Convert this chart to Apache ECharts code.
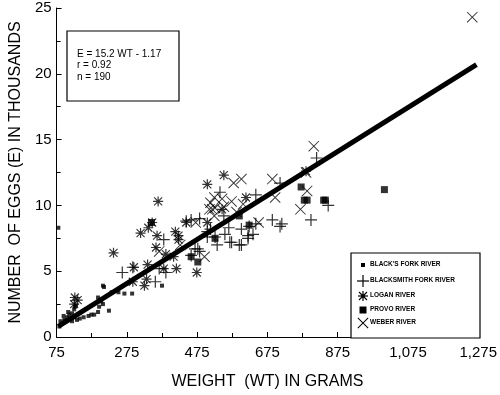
<!DOCTYPE html>
<html>
<head>
<meta charset="utf-8">
<script src="https://cdn.jsdelivr.net/npm/echarts@6/dist/echarts.min.js"></script>
<style>html,body{margin:0;padding:0;background:#fff;}#c{width:500px;height:395px;}</style>
</head>
<body>
<div id="c"></div>
<script>
// ---- data (weight in grams, eggs in thousands) ----
const xTicks = [75, 275, 475, 675, 875, 1075, 1275];
const yTicks = [0, 5, 10, 15, 20, 25];

const blacksFork = [
  [80,8.3],[83,0.8],[86,1.2],[90,1.0],[95,1.6],[97,1.3],[100,1.2],[105,1.5],[108,1.9],[111,1.7],
  [114,1.4],[119,1.8],[119,1.2],[125,2.1],[125,1.5],[127,2.3],[130,2.4],[133,1.3],[141,1.4],[152,1.5],
  [166,1.6],[174,1.7],[182,1.7],[193,1.9],[196,2.3],[193,3.0],[202,2.7],[207,2.5],[210,3.8],[207,3.9],
  [224,2.0],[232,3.4],[251,3.4],[268,3.3],[290,3.3],[375,3.9]
];
const blacksmithFork = [
  [262,4.9],[292,5.3],[356,4.2],[367,5.2],[386,4.9],[380,7.4],[444,8.8],[458,8.9],[482,9.0],[469,6.7],
  [482,6.5],[477,6.7],[458,6.2],[504,8.0],[526,7.6],[504,7.6],[513,8.2],[532,7.0],[554,7.8],[540,11.0],
  [551,9.2],[565,8.3],[568,7.2],[573,7.2],[595,7.0],[601,8.2],[601,7.0],[620,7.5],[620,7.7],[623,8.4],
  [634,7.8],[642,8.6],[642,10.8],[689,8.9],[711,8.4],[716,8.6],[711,11.7],[799,8.9],[815,13.6],[848,10.0]
];
const loganRiver = [
  [127,3.0],[125,2.5],[135,2.8],[237,6.4],[295,5.3],[334,5.5],[292,4.2],[325,3.9],[331,4.4],[380,5.2],
  [416,5.2],[347,8.7],[314,7.9],[336,8.3],[361,7.7],[358,6.8],[413,8.0],[422,7.7],[386,6.3],[408,6.1],
  [422,7.4],[444,8.7],[364,10.3],[504,11.6],[551,12.3],[504,8.7],[546,9.7],[614,10.6],[785,12.6],[474,4.9]
];
const provoRiver = [
  [345,8.7],[458,6.1],[477,5.7],[526,7.5],[595,9.2],[623,8.5],[771,11.4],[780,10.4],[788,10.4],[835,10.4],
  [840,10.4],[1008,11.2]
];
const weberRiver = [
  [1258,24.3],[807,14.5],[788,11.1],[769,9.7],[697,10.6],[689,12.0],[579,11.7],[601,12.0],[524,10.6],[546,10.5],
  [573,10.3],[510,9.7],[526,9.8],[551,9.9],[587,9.5],[606,10.1],[471,8.7],[650,8.7],[496,6.1],[513,10.2],
  [518,9.7],[524,9.2],[427,7.0],[367,6.5],[785,12.5]
];
const fitLineX = [80, 1270];
const fitLineY = [0.8, 20.7];

const seriesNames = ["BLACK'S FORK RIVER","BLACKSMITH FORK RIVER","LOGAN RIVER","PROVO RIVER","WEBER RIVER"];
const equationLines = ["E = 15.2 WT - 1.17", "r = 0.92", "n = 190"];

// ---- symbol shapes as polygons in a 10x10 box ----
const SQ = [[[0,0],[10,0],[10,10],[0,10]]];
const PLUS = [[[0,4.5],[10,4.5],[10,5.5],[0,5.5]], [[4.5,0],[5.5,0],[5.5,10],[4.5,10]]];
const XS = [[[0,0.6],[0.6,0],[10,9.4],[9.4,10]], [[9.4,0],[10,0.6],[0.6,10],[0,9.4]]];
const STAR = [[[0,4.4],[10,4.4],[10,5.6],[0,5.6]], [[4.4,0],[5.6,0],[5.6,10],[4.4,10]],
  [[0.6,1.4],[1.4,0.6],[9.4,8.6],[8.6,9.4]], [[8.6,0.6],[9.4,1.4],[1.4,9.4],[0.6,8.6]],
  [[3.3,3.3],[6.7,3.3],[6.7,6.7],[3.3,6.7]]];
function toPath(polys){ return 'path://' + polys.map(p => 'M' + p.map(q => q[0]+','+q[1]).join(' L') + ' Z').join(' '); }

const FONT = '"Liberation Sans", Arial, Helvetica, sans-serif';
const chart = echarts.init(document.getElementById('c'), null, {renderer:'canvas'});

function fmt(v){ return v >= 1000 ? String(v).replace(/(\d)(\d{3})$/, '$1,$2') : String(v); }

const legendSyms = [ {p: SQ, s: 4}, {p: PLUS, s: 12}, {p: STAR, s: 10}, {p: SQ, s: 7}, {p: XS, s: 11} ];
const legendY = [265, 281, 296, 310, 323];
const graphics = [
  {type:'rect', shape:{x:67, y:31, width:112, height:70}, style:{fill:'#fff', stroke:'#000', lineWidth:1.2}, z:10},
  {type:'rect', shape:{x:351, y:253, width:129, height:85}, style:{fill:'#fff', stroke:'#000', lineWidth:1.2}, z:10}
];
equationLines.forEach((t,i)=>{
  graphics.push({type:'text', x:77, y:[49,60,72][i], style:{text:t, font:'10px '+FONT, fill:'#000'}, z:11});
});
seriesNames.forEach((t,i)=>{
  const sym = legendSyms[i];
  const cx = 363, cy = legendY[i], k = sym.s/10;
  sym.p.forEach(poly => {
    graphics.push({type:'polygon', shape:{points: poly.map(q => [cx - sym.s/2 + q[0]*k, cy - sym.s/2 + q[1]*k])}, style:{fill:'#000'}, z:11});
  });
  graphics.push({type:'text', x:370, y:legendY[i]-4, style:{text:t, font:'bold 6.5px '+FONT, fill:'#000'}, z:11});
});

chart.setOption({
  animation:false,
  backgroundColor:'#fff',
  grid:{left:44, right:20, top:8, bottom:57, containLabel:false},
  xAxis:{
    type:'value', min:75, max:1275, interval:200,
    name:'WEIGHT  (WT) IN GRAMS', nameLocation:'middle', nameGap:37,
    nameTextStyle:{fontSize:16, color:'#000', fontFamily:FONT},
    axisLine:{show:true, lineStyle:{color:'#000', width:1}},
    axisTick:{show:true, inside:true, length:5, lineStyle:{color:'#000'}},
    minorTick:{show:true, splitNumber:2, length:4, lineStyle:{color:'#000'}},
    splitLine:{show:false},
    axisLabel:{fontSize:15, color:'#000', fontFamily:FONT, margin:8, formatter:fmt},
  },
  yAxis:{
    type:'value', min:0, max:25, interval:5,
    name:'NUMBER  OF EGGS (E) IN THOUSANDS', nameLocation:'middle', nameGap:22,
    nameTextStyle:{fontSize:16, color:'#000', fontFamily:FONT},
    axisLine:{show:true, lineStyle:{color:'#000', width:1}},
    axisTick:{show:true, inside:true, length:5, lineStyle:{color:'#000'}},
    minorTick:{show:true, splitNumber:2, length:4, lineStyle:{color:'#000'}},
    splitLine:{show:false},
    axisLabel:{fontSize:15, color:'#000', fontFamily:FONT, margin:5},
  },
  series:[
    {name:seriesNames[0], type:'scatter', data:blacksFork, symbol:'rect', symbolSize:4, itemStyle:{color:'#000'}, z:3},
    {name:seriesNames[1], type:'scatter', data:blacksmithFork, symbol:toPath(PLUS), symbolSize:12, itemStyle:{color:'#000'}, z:3},
    {name:seriesNames[2], type:'scatter', data:loganRiver, symbol:toPath(STAR), symbolSize:10, itemStyle:{color:'#000'}, z:3},
    {name:seriesNames[3], type:'scatter', data:provoRiver, symbol:'rect', symbolSize:7, itemStyle:{color:'#000'}, z:3},
    {name:seriesNames[4], type:'scatter', data:weberRiver, symbol:toPath(XS), symbolSize:11, itemStyle:{color:'#000'}, z:3},
    {name:'fit', type:'line', data:fitLineX.map((x,i)=>[x, fitLineY[i]]), showSymbol:false, symbol:'none',
      lineStyle:{color:'#000', width:5}, z:4, silent:true}
  ],
  graphic: graphics
});
</script>
</body>
</html>
